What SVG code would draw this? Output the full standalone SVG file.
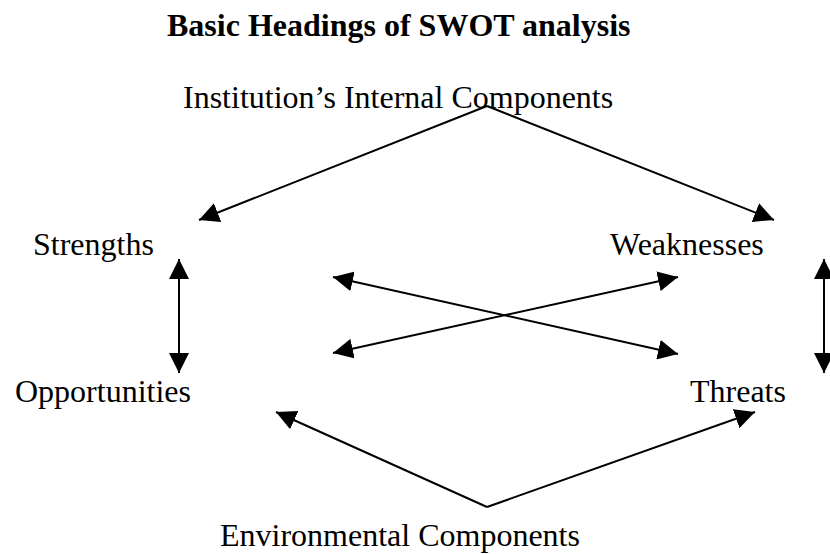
<svg xmlns="http://www.w3.org/2000/svg" width="830" height="554" viewBox="0 0 830 554">
  <defs>
    <style>
      .lbl { font-family: "Liberation Serif", "Times New Roman", serif; font-size: 32px; fill: #000; }
      .title { font-weight: bold; }
      .con { stroke: #000; stroke-width: 2; fill: none; }
    </style>
    <marker id="head" viewBox="0 0 20 20" refX="20" refY="10" markerWidth="20" markerHeight="20" markerUnits="userSpaceOnUse" orient="auto-start-reverse">
      <path d="M0,0 L20,10 L0,20 z" fill="#000"/>
    </marker>
  </defs>
  <rect width="830" height="554" fill="#fff"/>

  <text class="lbl title" x="167" y="36">Basic Headings of SWOT analysis</text>

  <g id="internal"><text class="lbl" x="183" y="108">Institution’s Internal Components</text></g>
  <g id="strengths"><text class="lbl" x="33" y="255">Strengths</text></g>
  <g id="weaknesses"><text class="lbl" x="610" y="255">Weaknesses</text></g>
  <g id="opportunities"><text class="lbl" x="15" y="402">Opportunities</text></g>
  <g id="threats"><text class="lbl" x="690" y="402">Threats</text></g>
  <g id="environmental"><text class="lbl" x="220" y="546">Environmental Components</text></g>

  <g id="connectors" class="con">
    <!-- internal components feed strengths and weaknesses -->
    <line x1="487" y1="106" x2="199" y2="220" marker-end="url(#head)"/>
    <line x1="487" y1="106" x2="774" y2="220" marker-end="url(#head)"/>
    <!-- vertical two-way links -->
    <line x1="179" y1="259" x2="179" y2="373" marker-start="url(#head)" marker-end="url(#head)"/>
    <line x1="824" y1="259" x2="824" y2="373" marker-start="url(#head)" marker-end="url(#head)"/>
    <!-- crossing two-way links -->
    <line x1="333" y1="277" x2="678" y2="354" marker-start="url(#head)" marker-end="url(#head)"/>
    <line x1="333" y1="353" x2="678" y2="277" marker-start="url(#head)" marker-end="url(#head)"/>
    <!-- environmental components feed opportunities and threats -->
    <line x1="487" y1="507" x2="276" y2="412" marker-end="url(#head)"/>
    <line x1="487" y1="507" x2="755" y2="412" marker-end="url(#head)"/>
  </g>
</svg>
